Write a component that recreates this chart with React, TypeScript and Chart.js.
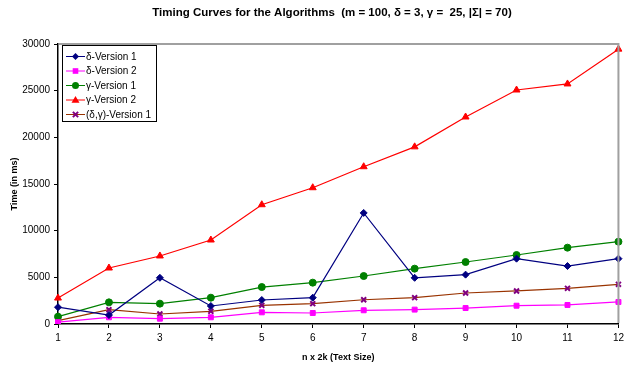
import React, { useEffect, useRef } from "react";
import { Chart, registerables } from "chart.js";

Chart.register(...registerables);

const categories = ["1", "2", "3", "4", "5", "6", "7", "8", "9", "10", "11", "12"];
const deltaV1 = [1800, 960, 4950, 1930, 2570, 2820, 11900, 4950, 5290, 7000, 6210, 7000];
const deltaV2 = [200, 720, 570, 720, 1250, 1180, 1470, 1540, 1710, 1960, 2040, 2360];
const gammaV1 = [790, 2320, 2180, 2820, 3960, 4430, 5140, 5930, 6640, 7390, 8180, 8820];
const gammaV2 = [2780, 6000, 7290, 9000, 12780, 14600, 16850, 18980, 22180, 25070, 25720, 29450];
const deltaGammaV1 = [360, 1530, 1070, 1360, 2000, 2180, 2600, 2820, 3320, 3540, 3820, 4250];
const yTicks = [0, 5000, 10000, 15000, 20000, 25000, 30000];

const FONT = "'Liberation Sans', Arial, sans-serif";

function marker(ctx: CanvasRenderingContext2D, style: string, r: number, x: number, y: number, color: string) {
  ctx.save();
  ctx.fillStyle = color;
  ctx.strokeStyle = color;
  ctx.lineWidth = 1;
  ctx.beginPath();
  if (style === "rectRot") {
    ctx.moveTo(x, y - r); ctx.lineTo(x + r, y); ctx.lineTo(x, y + r); ctx.lineTo(x - r, y); ctx.closePath(); ctx.fill();
  } else if (style === "rect") {
    ctx.fillRect(x - r * 0.8, y - r * 0.8, r * 1.6, r * 1.6);
  } else if (style === "circle") {
    ctx.arc(x, y, r, 0, Math.PI * 2); ctx.fill();
  } else if (style === "triangle") {
    ctx.moveTo(x, y - r); ctx.lineTo(x + r, y + r * 0.7); ctx.lineTo(x - r, y + r * 0.7); ctx.closePath(); ctx.fill();
  } else {
    ctx.lineWidth = 2;
    const d = r * 0.75;
    ctx.moveTo(x - d, y - d); ctx.lineTo(x + d, y + d); ctx.moveTo(x + d, y - d); ctx.lineTo(x - d, y + d); ctx.stroke();
  }
  ctx.restore();
}

const framePlugin = {
  id: "frame",
  afterDraw(chart: any) {
    const { ctx, chartArea } = chart;
    ctx.save();
    ctx.strokeStyle = "#a0a0a0";
    ctx.lineWidth = 2;
    ctx.beginPath();
    ctx.moveTo(chartArea.left + 1, chartArea.top);
    ctx.lineTo(chartArea.right, chartArea.top);
    ctx.lineTo(chartArea.right, chartArea.bottom - 1);
    ctx.stroke();
    ctx.fillStyle = "#000";
    ctx.font = `bold 11.5px ${FONT}`;
    ctx.textAlign = "center";
    ctx.textBaseline = "middle";
    ctx.fillText("Timing Curves for the Algorithms  (m = 100, \u03b4 = 3, \u03b3 =  25, |\u03a3| = 70)", 332, 13);
    const lx = 62, ly = 45, lw = 94, lh = 76;
    ctx.fillStyle = "#fff";
    ctx.fillRect(lx, ly, lw, lh);
    ctx.strokeStyle = "#000";
    ctx.lineWidth = 1;
    ctx.strokeRect(lx + 0.5, ly + 0.5, lw, lh);
    ctx.font = `10px ${FONT}`;
    ctx.textAlign = "left";
    chart.data.datasets.forEach((ds: any, i: number) => {
      const y = 56.5 + i * 14.5;
      ctx.strokeStyle = ds.borderColor;
      ctx.lineWidth = 1;
      ctx.beginPath();
      ctx.moveTo(66, y);
      ctx.lineTo(85, y);
      ctx.stroke();
      marker(ctx, ds.pointStyle, ds.pointRadius, 75.5, y, ds.pointBackgroundColor);
      ctx.fillStyle = "#000";
      ctx.fillText(ds.label, 86, y + 0.5);
    });
    ctx.restore();
  },
};

function mk(label: string, data: number[], line: string, point: string, style: string, r: number, bw = 1) {
  return {
    label,
    data,
    borderColor: line,
    backgroundColor: point,
    pointBackgroundColor: point,
    pointBorderColor: point,
    pointStyle: style,
    pointRadius: r,
    pointBorderWidth: bw,
    borderWidth: 1.2,
    tension: 0,
  };
}

export default function App() {
  const ref = useRef<HTMLCanvasElement>(null);
  useEffect(() => {
    const c = new Chart(ref.current!, {
      type: "line",
      data: {
        labels: categories,
        datasets: [
          mk("\u03b4-Version 1", deltaV1, "#000080", "#000080", "rectRot", 3.5),
          mk("\u03b4-Version 2", deltaV2, "#ff00ff", "#ff00ff", "rect", 3.5),
          mk("\u03b3-Version 1", gammaV1, "#008000", "#008000", "circle", 3.5),
          mk("\u03b3-Version 2", gammaV2, "#ff0000", "#ff0000", "triangle", 4),
          mk("(\u03b4,\u03b3)-Version 1", deltaGammaV1, "#993300", "#800080", "crossRot", 3.5, 2),
        ] as any,
      },
      options: {
        animation: false,
        responsive: false,
        devicePixelRatio: 1,
        layout: { padding: { top: 44, right: 6, left: 0, bottom: 0 } },
        plugins: { legend: { display: false }, title: { display: false }, tooltip: { enabled: false } },
        scales: {
          x: {
            type: "category",
            offset: false,
            grid: { display: true, drawOnChartArea: false, drawTicks: true, tickLength: 4, color: "#000" },
            border: { color: "#000", width: 1.5 },
            ticks: { color: "#000", font: { family: FONT, size: 10 }, padding: 4, maxRotation: 0 },
            title: { display: true, text: "n x 2k (Text Size)", color: "#000", font: { family: FONT, size: 9, weight: "bold" }, padding: { top: 8 } },
            afterFit: (s: any) => { s.height = 43; },
          },
          y: {
            min: 0,
            max: 30000,
            afterBuildTicks: (s: any) => { s.ticks = yTicks.map((v) => ({ value: v })); },
            grid: { display: true, drawOnChartArea: false, drawTicks: true, tickLength: 4, color: "#000" },
            border: { color: "#000", width: 1.5 },
            ticks: { color: "#000", font: { family: FONT, size: 10 }, padding: 4, callback: (v: any) => String(v) },
            title: { display: true, text: "Time (in ms)", color: "#000", font: { family: FONT, size: 9, weight: "bold" }, padding: { top: 9, bottom: 0 } },
            afterFit: (s: any) => { s.width = 58; },
          },
        },
      },
      plugins: [framePlugin],
    });
    return () => c.destroy();
  }, []);
  return (
    <div style={{ position: "fixed", left: 0, top: 0, width: 628, height: 367, background: "#fff" }}>
      <canvas ref={ref} width={628} height={367} />
    </div>
  );
}
